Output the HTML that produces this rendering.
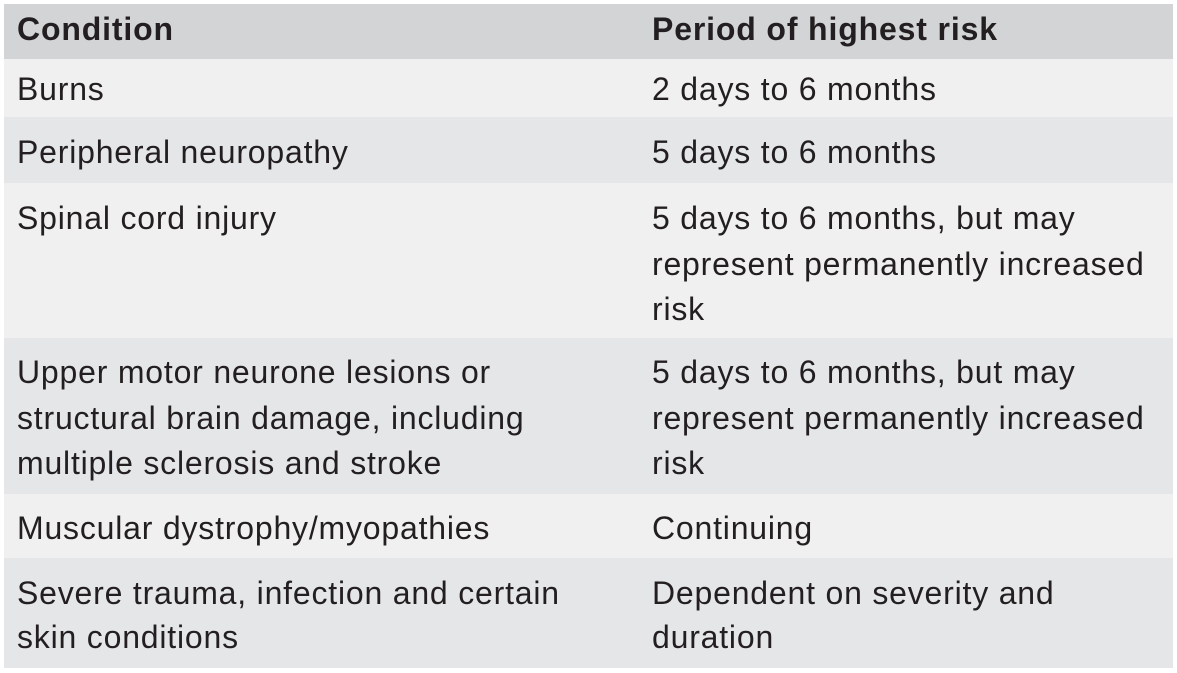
<!DOCTYPE html>
<html><head><meta charset="utf-8"><style>
html,body{margin:0;padding:0;background:#fff;}
body{width:1177px;height:673px;position:relative;overflow:hidden;font-family:"Liberation Sans",Arial,sans-serif;color:#231f20;}
.r{position:absolute;left:4px;width:1169px;}
.h{background:#d3d4d6;}
.l{background:#f0f0f0;}
.g{background:#e5e6e8;}
.t{position:absolute;font-size:32px;line-height:46px;height:46px;white-space:nowrap;letter-spacing:0.8px;}
.b{font-weight:bold;letter-spacing:0.85px;}
.c1{left:17px;}
.c2{left:652px;}
</style></head><body>
<div class="r h" style="top:4px;height:55px"></div>
<div class="r l" style="top:59px;height:58px"></div>
<div class="r g" style="top:117px;height:66px"></div>
<div class="r l" style="top:183px;height:155px"></div>
<div class="r g" style="top:338px;height:156px"></div>
<div class="r l" style="top:494px;height:64px"></div>
<div class="r g" style="top:558px;height:110px"></div>

<div class="t b c1" style="top:6px">Condition</div>
<div class="t b c2" style="top:6px">Period of highest risk</div>

<div class="t c1" style="top:66px">Burns</div>
<div class="t c2" style="top:66px">2 days to 6 months</div>

<div class="t c1" style="top:129px">Peripheral neuropathy</div>
<div class="t c2" style="top:129px">5 days to 6 months</div>

<div class="t c1" style="top:195px">Spinal cord injury</div>
<div class="t c2" style="top:195px">5 days to 6 months, but may</div>
<div class="t c2" style="top:240.5px">represent permanently increased</div>
<div class="t c2" style="top:285.5px">risk</div>

<div class="t c1" style="top:349px">Upper motor neurone lesions or</div>
<div class="t c1" style="top:394.5px">structural brain damage, including</div>
<div class="t c1" style="top:440px">multiple sclerosis and stroke</div>
<div class="t c2" style="top:349px">5 days to 6 months, but may</div>
<div class="t c2" style="top:394.5px">represent permanently increased</div>
<div class="t c2" style="top:440px">risk</div>

<div class="t c1" style="top:504.5px">Muscular dystrophy/myopathies</div>
<div class="t c2" style="top:504.5px">Continuing</div>

<div class="t c1" style="top:569.5px">Severe trauma, infection and certain</div>
<div class="t c1" style="top:614px">skin conditions</div>
<div class="t c2" style="top:569.5px">Dependent on severity and</div>
<div class="t c2" style="top:614px">duration</div>
</body></html>
